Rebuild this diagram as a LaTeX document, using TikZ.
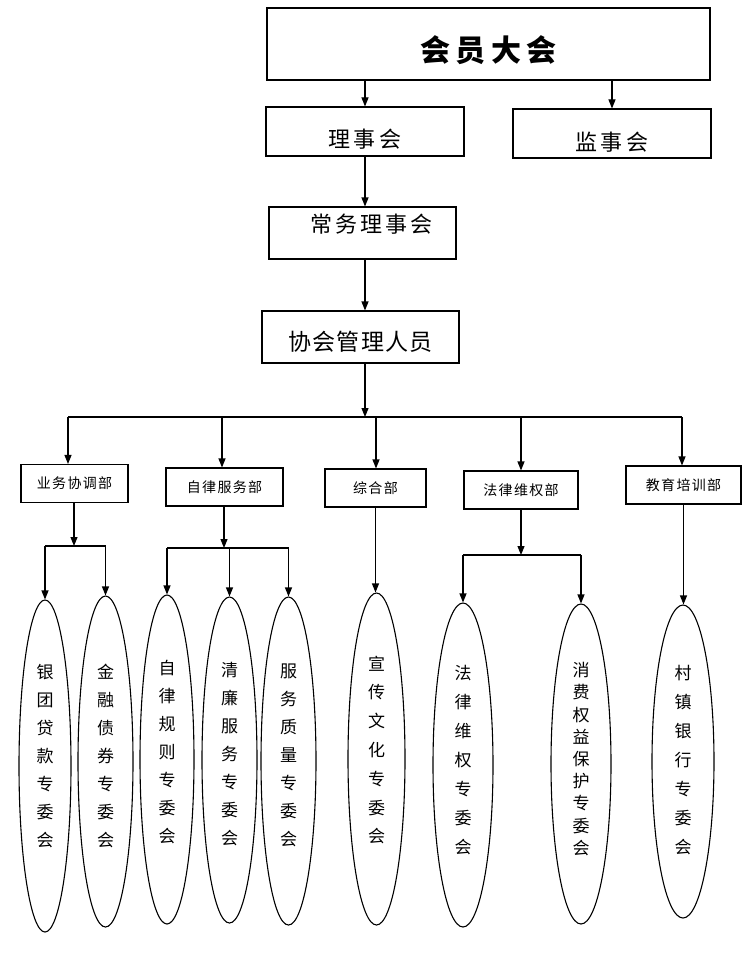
\documentclass[tikz,border=0pt]{standalone}
\usepackage{fontspec}
\setmainfont{Noto Sans CJK SC}
\usepackage{tikz}
\usetikzlibrary{positioning,arrows.meta,shapes.geometric,calc}

\begin{document}
\begin{tikzpicture}[x=1pt, y=-1pt,
  box/.style={draw, line width=1.1pt, inner sep=0pt},
  level/.style={box, font=\fontsize{22}{24}\selectfont\addfontfeature{LetterSpace=14}},
  dept/.style={box, minimum height=38pt, font=\fontsize{14}{16}\selectfont\addfontfeature{LetterSpace=9}},
  comm/.style={draw, ellipse, line width=1.1pt, inner sep=0pt},
  comtext/.style={align=center},
  arr/.style={-{Triangle[length=9pt,width=7pt]}, line width=1.1pt},
  link/.style={line width=1.1pt}
]
  \useasboundingbox (0,0) rectangle (751,963);

  % Top levels
  \node[box, minimum width=443pt, minimum height=72pt, text height=36pt, text depth=0pt,
        font=\fontsize{30}{34}\selectfont\bfseries\addfontfeature{LetterSpace=17}] (assembly) at (488.5,44) {会员大会};
  \node[level, minimum width=198pt, minimum height=49pt, text height=31pt, text depth=0pt] (council) at (365,131.5) {理事会};
  \node[level, minimum width=198pt, minimum height=49pt, text height=33pt, text depth=0pt] (supervisors) at (612,133.5) {监事会};
  \node[level, minimum width=187pt, minimum height=52pt, text height=0pt, text depth=1pt] (standing) at (362.5,233) {\hspace*{18pt}常务理事会};
  \node[level, minimum width=197pt, minimum height=52pt, text height=27pt, text depth=0pt,
        font=\fontsize{23}{25}\selectfont\addfontfeature{LetterSpace=5}] (mgmt) at (360.5,337) {协会管理人员};

  \draw[arr] (assembly.south -| council.north) -- (council.north);
  \draw[arr] (assembly.south -| supervisors.north) -- (supervisors.north);
  \draw[arr] (council.south) -- (council.south |- standing.north);
  \draw[arr] (council.south |- standing.south) -- (council.south |- mgmt.north);

  % Departments
  \node[dept, minimum width=107pt] (d1) at (74.5,483.5) {业务协调部};
  \node[dept, minimum width=117pt] (d2) at (224.5,487) {自律服务部};
  \node[dept, minimum width=101pt] (d3) at (375.5,488) {综合部};
  \node[dept, minimum width=114pt] (d4) at (521,490) {法律维权部};
  \node[dept, minimum width=115pt] (d5) at (683.5,485) {教育培训部};

  \foreach \i/\x in {1/68, 2/222, 3/376, 4/521, 5/682} {
    \coordinate (k\i) at (\x,417);
    \draw[arr] (k\i) -- (k\i |- d\i.north);
  }
  \draw[link] (k1) -- (k5);
  \draw[arr] (council.south |- mgmt.south) -- (council.south |- k3);

  % Committees
  \foreach \n/\x/\y/\w/\h/\ty/\b/\t in {
      e1/45/766/52/332/756/28/{银\\团\\贷\\款\\专\\委\\会},
      e2/105.5/761.5/55/331/756/28/{金\\融\\债\\券\\专\\委\\会},
      e3/167/759.5/54/329/752/28/{自\\律\\规\\则\\专\\委\\会},
      e4/229.5/760/55/326/754/28/{清\\廉\\服\\务\\专\\委\\会},
      e5/288.5/761/55/328/755/28/{服\\务\\质\\量\\专\\委\\会},
      e6/376.5/759/57/332/750/28.8/{宣\\传\\文\\化\\专\\委\\会},
      e7/463/765/60/324/760/29/{法\\律\\维\\权\\专\\委\\会},
      e8/581/764/60/320/759/22.2/{消\\费\\权\\益\\保\\护\\专\\委\\会},
      e9/683/761.5/62/313/760/29/{村\\镇\\银\\行\\专\\委\\会}} {
    \node[comm, minimum width=\w pt, minimum height=\h pt] (\n) at (\x,\y) {};
    \node[comtext, font=\fontsize{17}{\b}\selectfont] (t\n) at (\x,\ty) {\t};
  }

  % Department to committee links
  \coordinate (j1) at (74,546);
  \coordinate (j2) at (224,548);
  \coordinate (j4) at (521,555);
  \draw[arr] (d1.south -| j1) -- (j1);
  \draw[arr] (d2.south -| j2) -- (j2);
  \draw[arr] (d4.south -| j4) -- (j4);
  \draw[link] (e1.north |- j1) -- (e2.north |- j1);
  \draw[link] (e3.north |- j2) -- (e5.north |- j2);
  \draw[link] (e7.north |- j4) -- (e8.north |- j4);
  \foreach \e/\j in {e1/j1, e2/j1, e3/j2, e4/j2, e5/j2, e7/j4, e8/j4} {
    \draw[arr] (\e.north |- \j) -- (\e.north);
  }
  \draw[arr] (d3.south) -- (d3.south |- e6.north);
  \draw[arr] (d5.south) -- (d5.south |- e9.north);
\end{tikzpicture}
\end{document}
